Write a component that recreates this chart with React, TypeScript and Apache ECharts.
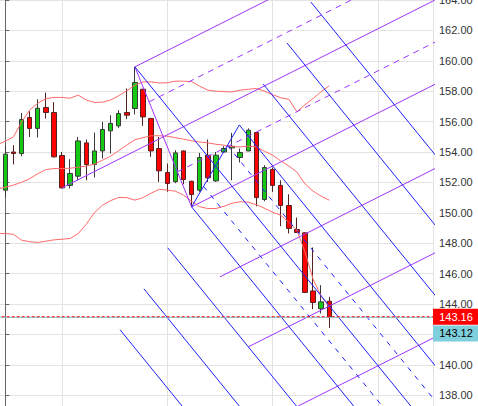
import { useEffect, useRef } from "react";
import * as echarts from "echarts";

// ---- candles (index 0..40) ----
const opens = [151.49, 154.0, 153.9, 156.27, 155.55, 156.93, 156.6, 153.77, 151.8, 152.41, 154.6, 153.18, 154.07, 155.39, 155.72, 156.6, 156.86, 158.13, 156.2, 154.23, 152.65, 152.05, 154.07, 152.08, 151.49, 153.79, 152.1, 154.0, 154.27, 153.64, 154.07, 155.28, 150.88, 152.85, 151.8, 150.48, 148.9, 148.68, 144.86, 143.69, 144.18];
const closes = [153.86, 153.9, 156.14, 155.55, 156.88, 156.6, 153.68, 151.64, 152.59, 154.73, 153.18, 154.07, 155.48, 155.88, 156.53, 156.42, 158.57, 156.31, 154.07, 152.76, 151.93, 153.94, 152.19, 151.2, 153.64, 152.3, 153.79, 154.23, 154.38, 153.97, 155.43, 151.0, 152.98, 151.8, 150.48, 148.97, 148.7, 144.76, 144.1, 144.14, 143.16];
const lows = [151.0, 153.18, 153.72, 154.99, 154.95, 156.2, 153.64, 151.6, 151.6, 152.14, 152.14, 152.32, 153.57, 153.9, 155.59, 156.16, 156.47, 155.72, 153.68, 152.03, 151.38, 151.95, 151.88, 150.39, 151.38, 152.03, 152.03, 153.95, 152.14, 153.31, 154.05, 150.43, 150.76, 151.38, 149.12, 148.64, 148.68, 144.72, 143.66, 143.38, 142.43];
const highs = [154.45, 154.45, 156.57, 156.68, 157.47, 157.91, 157.28, 154.0, 153.53, 154.99, 154.82, 155.28, 155.98, 156.42, 156.75, 158.18, 159.6, 158.15, 156.25, 154.99, 153.24, 154.12, 154.1, 152.1, 153.94, 154.82, 154.0, 154.38, 155.26, 154.23, 155.55, 155.3, 153.13, 152.98, 152.14, 151.22, 149.69, 148.72, 147.72, 145.24, 144.47];

// ---- Bollinger bands (index -1..40) ----
const bandStart = -1;
const upperBand = [154.48, 154.71, 154.99, 155.96, 156.75, 157.21, 157.51, 157.59, 157.59, 157.54, 157.74, 157.42, 157.26, 157.28, 157.42, 157.7, 158.03, 158.39, 158.61, 158.61, 158.54, 158.56, 158.66, 158.66, 158.63, 158.33, 158.07, 158.0, 157.97, 157.95, 158.07, 158.13, 158.18, 158.0, 157.77, 157.57, 157.47, 156.64, 157.11, 157.52, 157.97, 158.36];
const middleBand = [151.57, 151.68, 151.82, 152.01, 152.24, 152.57, 152.84, 152.91, 152.91, 152.93, 153.0, 153.07, 153.2, 153.46, 153.72, 154.09, 154.45, 154.81, 154.94, 155.07, 155.07, 155.04, 154.94, 154.84, 154.74, 154.66, 154.6, 154.51, 154.45, 154.35, 154.34, 154.38, 154.34, 154.05, 153.79, 153.41, 153.08, 152.68, 151.9, 151.42, 151.09, 150.83];
const lowerBand = [148.64, 148.63, 148.59, 148.2, 148.1, 148.05, 148.13, 148.22, 148.26, 148.31, 148.64, 149.25, 150.01, 150.5, 150.8, 151.01, 151.0, 150.83, 151.0, 151.29, 151.55, 151.49, 151.42, 151.16, 150.76, 150.4, 150.28, 150.28, 150.43, 150.63, 150.73, 150.7, 150.53, 150.3, 150.04, 149.84, 149.38, 148.86, 147.41, 145.63, 144.51, 143.79];

// ---- prices ----
const lastPrice = 143.16;
const bidPrice = 143.12;

// ---- pitchfork anchors [index, price] ----
const purpleFork = [[7, 151.64], [16, 159.6], [23, 150.39]];
const blueFork = [[16, 159.6], [23, 150.39], [28.89, 155.78]];
const forkLevels = [-4, -3, -2, -1, 1, 2, 3, 4];
const halfLevels = [-0.5, 0.5];

// ---- axes ----
const yMin = 136;
const yMax = 164;
const yStep = 2;
const xMin = -6;
const xMax = 52.8;
const xStep = 13;

type P = number[];

function forkSegments(pts: P[], xEnd: number) {
  const [A, B, C] = pts;
  const M = [(B[0] + C[0]) / 2, (B[1] + C[1]) / 2];
  const d = [M[0] - A[0], M[1] - A[1]];
  const h = [(C[0] - B[0]) / 2, (C[1] - B[1]) / 2];
  const ext = (S: P) => {
    const t = (xEnd - S[0]) / d[0];
    return [S[0] + t * d[0], S[1] + t * d[1]];
  };
  const at = (k: number) => [M[0] + k * h[0], M[1] + k * h[1]];
  const solid: P[][] = [[A, ext(A)], [B, C]];
  forkLevels.forEach((k) => {
    const S = at(k);
    solid.push([S, ext(S)]);
  });
  const dashed: P[][] = halfLevels.map((k) => {
    const S = at(k);
    return [S, ext(S)];
  });
  return { solid, dashed };
}

export default function App() {
  const ref = useRef<HTMLDivElement>(null);
  useEffect(() => {
    const chart = echarts.init(ref.current!, null, { renderer: "svg" });
    const candles = opens.map((o, i) => [i, o, closes[i], lows[i], highs[i]]);
    const band = (arr: number[]) => arr.map((v, i) => [bandStart + i, v]);
    const purple = forkSegments(purpleFork, 58);
    const blue = forkSegments(blueFork, 58);
    const PURPLE = "#a034ff";
    const BLUE = "#2020ff";
    const lineSeries = (seg: P[], color: string, dash: any) => ({
      type: "line",
      data: seg,
      symbol: "none",
      silent: true,
      z: 4,
      lineStyle: { color, width: 1, type: dash },
    });
    const bandSeries = (arr: number[]) => ({
      type: "line",
      data: band(arr),
      symbol: "none",
      silent: true,
      z: 3,
      lineStyle: { color: "#ff6a6a", width: 1 },
    });
    const fmt = (v: number) => v.toFixed(2);
    const priceSeries = (price: number, color: string, dash: any, textColor: string, dy: number, z: number) => ({
      type: "line",
      data: [[xMin, price], [xMax, price]],
      symbol: "none",
      silent: true,
      z,
      itemStyle: { color },
      lineStyle: { color, width: 1, type: dash },
      markPoint: {
        silent: true,
        animation: false,
        data: [
          {
            coord: [xMax, price],
            value: price,
            symbol: "rect",
            symbolSize: [46, 16],
            symbolOffset: [23, dy],
            itemStyle: { color },
            label: { show: true, position: "inside", color: textColor, fontSize: 11, formatter: () => fmt(price) },
          },
        ],
      },
    });

    chart.setOption({
      animation: false,
      backgroundColor: "#ffffff",
      textStyle: { fontFamily: "Liberation Sans, Arial, sans-serif" },
      grid: {
        left: -43.3,
        right: 45,
        top: 0,
        bottom: -19.6,
        containLabel: false,
        outerBoundsMode: "none",
      },
      xAxis: {
        type: "value",
        min: xMin,
        max: xMax,
        interval: xStep,
        axisLine: { show: false },
        axisTick: { show: false },
        axisLabel: { show: false },
        splitLine: { show: true, lineStyle: { color: "#e3e3e3", width: 1 } },
      },
      yAxis: {
        type: "value",
        position: "right",
        min: yMin,
        max: yMax,
        interval: yStep,
        axisLine: { show: true, lineStyle: { color: "#666666" } },
        axisTick: { show: true, length: 4, lineStyle: { color: "#666666" } },
        axisLabel: { margin: 6, color: "#333333", fontSize: 11, formatter: fmt, showMinLabel: false },
        splitLine: { show: true, lineStyle: { color: "#e3e3e3", width: 1 } },
      },
      series: [
        {
          type: "candlestick",
          data: candles,
          barWidth: 5,
          z: 2,
          silent: true,
          itemStyle: {
            color: "#14c814",
            color0: "#ff0000",
            borderColor: "#3a3a3a",
            borderColor0: "#552222",
            borderWidth: 1,
          },
        },
        bandSeries(upperBand),
        bandSeries(middleBand),
        bandSeries(lowerBand),
        ...purple.solid.map((s) => lineSeries(s, PURPLE, "solid")),
        ...purple.dashed.map((s) => lineSeries(s, PURPLE, [6, 5])),
        ...blue.solid.map((s) => lineSeries(s, BLUE, "solid")),
        ...blue.dashed.map((s) => lineSeries(s, BLUE, [5, 6])),
        priceSeries(bidPrice, "#80cfdc", "solid", "#000000", 16, 9),
        priceSeries(lastPrice, "#ff0000", [3, 2], "#ffffff", 0, 10),
      ],
    });
    return () => chart.dispose();
  }, []);
  return (
    <div
      ref={ref}
      style={{ position: "absolute", left: 0, top: 0, width: 478, height: 406, background: "#ffffff" }}
    />
  );
}
